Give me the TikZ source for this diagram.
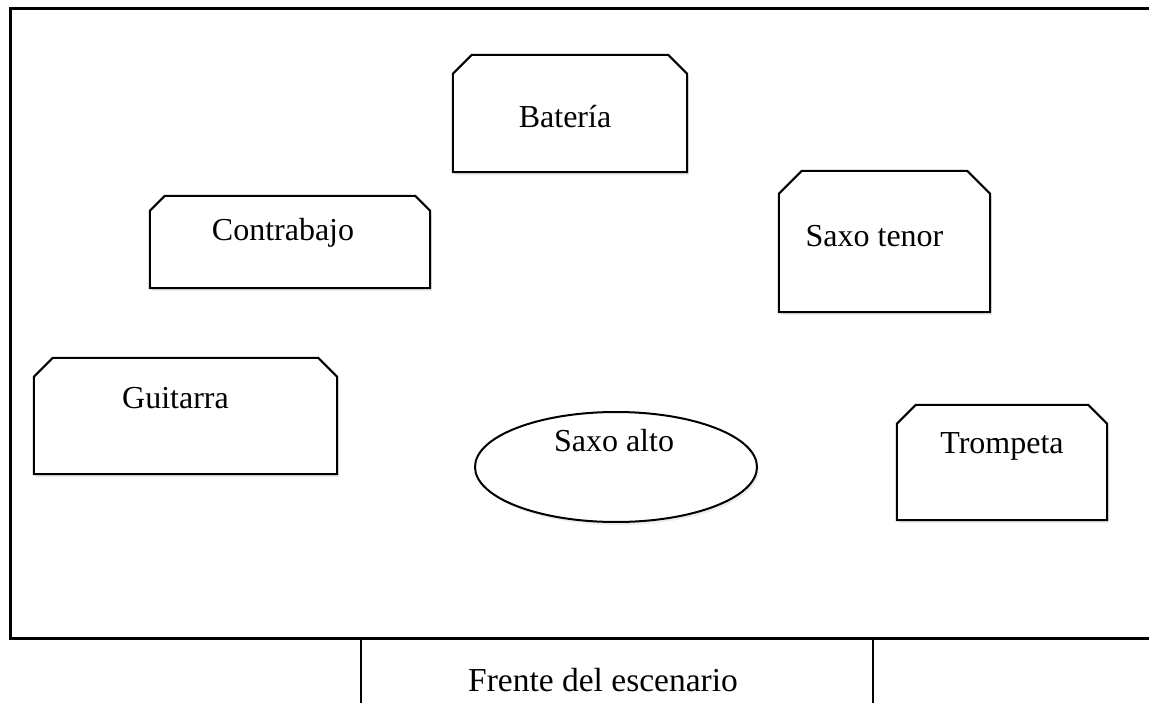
\documentclass[tikz,border=0pt]{standalone}
\usepackage{fontspec}
\setmainfont{Liberation Serif}
\usetikzlibrary{shapes.geometric,shadows}

\tikzset{
  boxline/.style={draw, line width=2pt, fill=white, line join=miter,
    drop shadow={shadow xshift=2pt, shadow yshift=-3pt, opacity=0.15}},
  stagebox/.style={rectangle, inner sep=0pt},
  stageoval/.style={boxline, ellipse, inner sep=0pt},
  lbl/.style={font=\fontsize{32}{38}\selectfont, inner sep=0pt}
}

% box with both top corners cut off
\newcommand{\snipbox}[2]{%
  \path[boxline] (#1.south west) -- ([yshift=-#2]#1.north west)
    -- ([xshift=#2]#1.north west) -- ([xshift=-#2]#1.north east)
    -- ([yshift=-#2]#1.north east) -- (#1.south east) -- cycle;}

\begin{document}
\begin{tikzpicture}[x=1pt, y=-1pt]
  \useasboundingbox (0,0) rectangle (1149,703);
  \clip (0,0) rectangle (1149,703);

  % stage outline and front
  \draw[line width=3pt] (1180,9) -- (10,9) -- (10,638) -- (1180,638);
  \draw[line width=2pt] (361,638) -- (361,720);
  \draw[line width=2pt] (873,638) -- (873,720);
  \node[lbl, font=\fontsize{33.5}{40}\selectfont] (frente) at (603,680) {Frente del escenario};

  % instruments
  \node[stagebox, minimum width=234pt, minimum height=117pt] (bateria) at (570,113.5) {};
  \node[stagebox, minimum width=280pt, minimum height=92pt] (contrabajo) at (290,242) {};
  \node[stagebox, minimum width=211pt, minimum height=141pt] (saxotenor) at (884.5,241.5) {};
  \node[stagebox, minimum width=303pt, minimum height=116pt] (guitarra) at (185.5,416) {};
  \node[stagebox, minimum width=210pt, minimum height=115pt] (trompeta) at (1002,462.5) {};
  \snipbox{bateria}{19pt}
  \snipbox{contrabajo}{15pt}
  \snipbox{saxotenor}{23pt}
  \snipbox{guitarra}{19pt}
  \snipbox{trompeta}{19pt}
  \node[stageoval, minimum width=282pt, minimum height=110pt] (saxoalto) at (616,467) {};

  % labels
  \node[lbl] (lbateria) at ([shift={(-5,3)}]bateria.center) {Batería};
  \node[lbl] (lcontrabajo) at ([shift={(-7,-9)}]contrabajo.center) {Contrabajo};
  \node[lbl] (lsaxotenor) at ([shift={(-10,-5)}]saxotenor.center) {Saxo tenor};
  \node[lbl] (lguitarra) at ([shift={(-10,-18)}]guitarra.center) {Guitarra};
  \node[lbl] (lsaxoalto) at ([shift={(-2,-26)}]saxoalto.center) {Saxo alto};
  \node[lbl] (ltrompeta) at ([shift={(0,-16)}]trompeta.center) {Trompeta};
\end{tikzpicture}
\end{document}
